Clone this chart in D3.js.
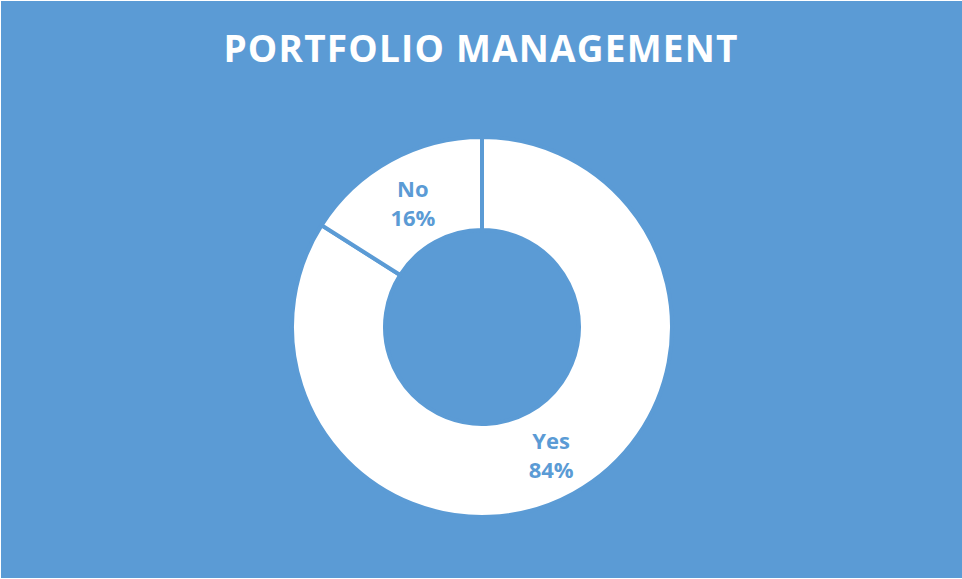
<!DOCTYPE html>
<html>
<head>
<meta charset="utf-8">
<script src="https://cdn.jsdelivr.net/npm/d3@7"></script>
<style>
  html, body { margin: 0; padding: 0; background: #ffffff; }
  svg { display: block; }
</style>
</head>
<body>
<svg id="chart" width="962" height="579"></svg>
<script>
// Chart data
const categories = ["Yes", "No"]
const shares = [84, 16]
const chartTitle = "PORTFOLIO MANAGEMENT"

const W = 962, H = 579
const bg = "#5b9bd5"
const cx = 482, cy = 327
const outerR = 190, innerR = 97

const svg = d3.select("#chart")

// Blue chart area (thin white edge on top/left like the original)
svg.append("rect")
  .attr("x", 1).attr("y", 1)
  .attr("width", W - 1).attr("height", H - 2)
  .attr("fill", bg)

// Title
svg.append("text")
  .attr("x", 481).attr("y", 62)
  .attr("text-anchor", "middle")
  .style("font-family", "'Open Sans', sans-serif")
  .style("font-weight", "bold")
  .style("font-size", "37px")
  .style("letter-spacing", "1.2px")
  .style("fill", "#ffffff")
  .text(chartTitle)

// Build pie layout, keep order, start at 12 o'clock going clockwise
const data = categories.map((c, i) => ({ name: c, value: shares[i] }))
const pie = d3.pie().value(d => d.value).sort(null)
const arc = d3.arc().innerRadius(innerR).outerRadius(outerR)
const labelArc = d3.arc().innerRadius((innerR + outerR) / 2).outerRadius((innerR + outerR) / 2)

const g = svg.append("g").attr("transform", `translate(${cx},${cy})`)

g.selectAll("path.slice")
  .data(pie(data))
  .enter()
  .append("path")
  .attr("class", "slice")
  .attr("d", arc)
  .attr("fill", "#ffffff")
  .attr("stroke", bg)
  .attr("stroke-width", 4)
  .attr("stroke-linejoin", "miter")

// Category + percent labels
const total = d3.sum(shares)
const labels = g.selectAll("text.lbl")
  .data(pie(data))
  .enter()
  .append("text")
  .attr("class", "lbl")
  .attr("text-anchor", "middle")
  .attr("transform", d => `translate(${labelArc.centroid(d)})`)
  .style("font-family", "'Open Sans', sans-serif")
  .style("font-weight", "bold")
  .style("font-size", "22px")
  .style("fill", bg)

labels.append("tspan")
  .attr("x", 0).attr("y", -4)
  .text(d => d.data.name)
labels.append("tspan")
  .attr("x", 0).attr("y", 25)
  .text(d => Math.round(100 * d.data.value / total) + "%")
</script>
</body>
</html>
